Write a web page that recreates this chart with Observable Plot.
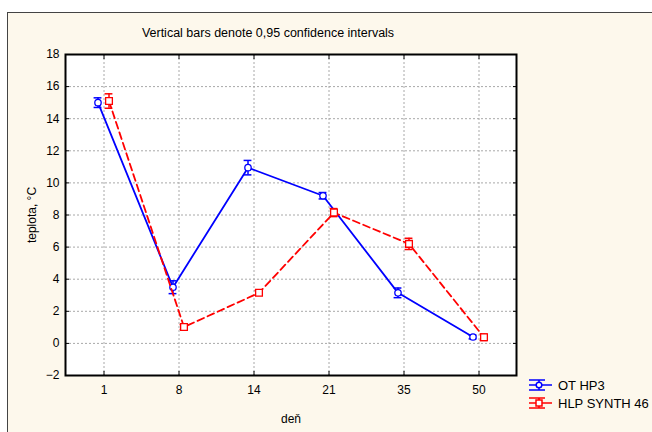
<!DOCTYPE html>
<html><head><meta charset="utf-8">
<script src="https://cdn.jsdelivr.net/npm/d3@7"></script>
<script src="https://cdn.jsdelivr.net/npm/@observablehq/plot@0.6"></script>
<style>body{margin:0;background:#fff;} svg{display:block;}</style>
</head><body><div id="chart"></div>
<script>
const days = ["1", "8", "14", "21", "35", "50"];
const otMean = [15.0, 3.5, 10.95, 9.2, 3.15, 0.4];
const otCI = [0.3, 0.4, 0.45, 0.2, 0.3, 0.12];
const hlpMean = [15.1, 1.02, 3.15, 8.15, 6.2, 0.38];
const hlpCI = [0.45, 0.15, 0.15, 0.25, 0.35, 0.2];
const yTicks = [-2, 0, 2, 4, 6, 8, 10, 12, 14, 16, 18];
const seriesNames = ["OT HP3", "HLP SYNTH 46"];
const colors = ["#0000ff", "#ff0000"];
const titleText = "Vertical bars denote 0,95 confidence intervals";
const xLabel = "deň";
const yLabel = "teplota, °C";

const rows = (means, cis) => days.map((d, i) => ({day: d, mean: means[i], lo: means[i] - cis[i], hi: means[i] + cis[i]}));
const ot = rows(otMean, otCI);
const hlp = rows(hlpMean, hlpCI);

const W = 652, H = 432, mL = 65, mR = 136, mT = 54, mB = 57;
const bw = (W - mL - mR) / days.length;
const capW = 8;
const capInset = (bw - capW) / 2;
const dxOT = -6, dxHLP = 5;
const font = "'Liberation Sans', Arial, sans-serif";

function seriesMarks(data, color, dx, symbol, r, dash) {
  return [
    Plot.line(data, {x: "day", y: "mean", dx, stroke: color, strokeWidth: 1.8, strokeDasharray: dash}),
    Plot.ruleX(data, {x: "day", y1: "lo", y2: "hi", dx, stroke: color, strokeWidth: 1.5}),
    Plot.tickY(data, {x: "day", y: "lo", dx, stroke: color, strokeWidth: 1.5, insetLeft: capInset, insetRight: capInset}),
    Plot.tickY(data, {x: "day", y: "hi", dx, stroke: color, strokeWidth: 1.5, insetLeft: capInset, insetRight: capInset}),
    Plot.dot(data, {x: "day", y: "mean", dx, symbol, r, stroke: color, strokeWidth: 1.3, fill: "white"})
  ];
}

const chart = Plot.plot({
  width: W, height: H,
  marginLeft: mL, marginRight: mR, marginTop: mT, marginBottom: mB,
  style: {fontFamily: font, fontSize: "12px", background: "transparent", color: "black"},
  x: {type: "band", domain: days, padding: 0},
  y: {domain: [-2, 18]},
  marks: [
    Plot.frame({fill: "white", stroke: null}),
    Plot.gridY(yTicks, {stroke: "#a8a8a8", strokeOpacity: 1, strokeDasharray: "2,2"}),
    Plot.gridX({stroke: "#a8a8a8", strokeOpacity: 1, strokeDasharray: "2,2"}),
    Plot.axisY(yTicks, {anchor: "left", tickSize: 0, tickPadding: 6, label: yLabel, labelAnchor: "center", labelOffset: 38, labelArrow: "none", fontSize: 12}),
    Plot.axisY(yTicks, {anchor: "left", tickSize: -4, text: null, label: null}),
    Plot.axisY(yTicks, {anchor: "right", tickSize: -4, text: null, label: null}),
    Plot.axisX({anchor: "bottom", tickSize: 0, tickPadding: 10, label: xLabel, labelAnchor: "center", labelOffset: 47, labelArrow: "none", fontSize: 12}),
    Plot.axisX({anchor: "bottom", tickSize: -4, text: null, label: null}),
    Plot.axisX({anchor: "top", tickSize: -4, text: null, label: null}),
    ...seriesMarks(ot, colors[0], dxOT, "circle", 3.2, null),
    ...seriesMarks(hlp, colors[1], dxHLP, "square", 3.8, "7,4"),
    Plot.frame({stroke: "black", strokeWidth: 2})
  ]
});

const svg = d3.select(chart);
svg.insert("rect", ":first-child")
  .attr("x", 7.5).attr("y", 12.5).attr("width", 700).attr("height", 500)
  .attr("fill", "#fdf8ec").attr("stroke", "#444").attr("stroke-width", 1);

svg.append("text").attr("x", 268).attr("y", 37).attr("text-anchor", "middle")
  .attr("font-family", font).attr("font-size", 12.5).attr("fill", "black").text(titleText);

const lg = svg.append("g").attr("font-family", font).attr("font-size", 13).attr("text-anchor", "start");
seriesNames.forEach((name, i) => {
  const cy = 385 + i * 18, c = colors[i];
  const g = lg.append("g").attr("stroke", c).attr("stroke-width", 1.5).attr("fill", "none");
  g.append("line").attr("x1", 529).attr("x2", 552).attr("y1", cy).attr("y2", cy);
  g.append("line").attr("x1", 529).attr("x2", 545).attr("y1", cy - 5).attr("y2", cy - 5);
  g.append("line").attr("x1", 529).attr("x2", 545).attr("y1", cy + 5).attr("y2", cy + 5);
  g.append("line").attr("x1", 539).attr("x2", 539).attr("y1", cy - 5).attr("y2", cy + 5);
  if (i === 0) g.append("circle").attr("cx", 539).attr("cy", cy).attr("r", 2.8).attr("fill", "white");
  else g.append("rect").attr("x", 536).attr("y", cy - 3).attr("width", 6).attr("height", 6).attr("fill", "white");
  lg.append("text").attr("x", 558).attr("y", cy).attr("dy", "0.35em").attr("text-anchor", "start").attr("fill", "black").text(name);
});

document.getElementById("chart").appendChild(chart);
</script>
</body></html>
